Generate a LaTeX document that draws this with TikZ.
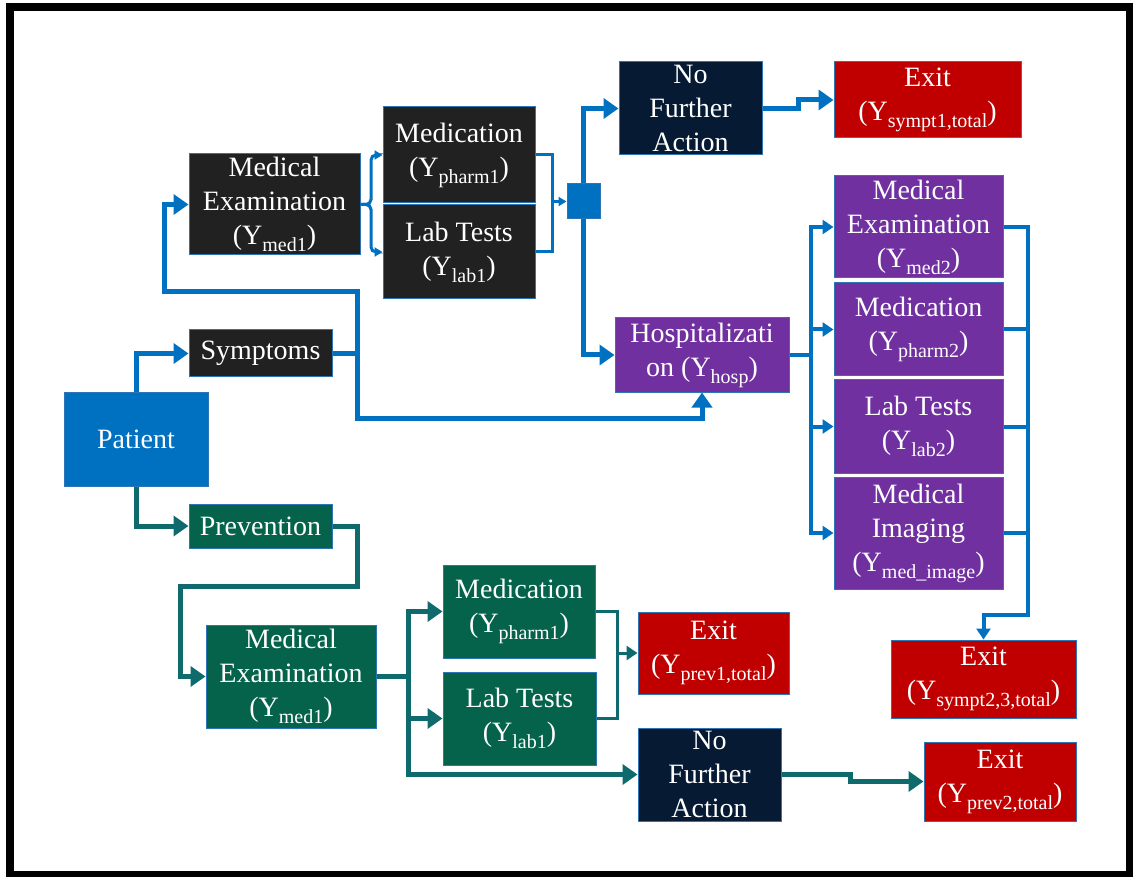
\documentclass[tikz,border=0pt]{standalone}
\usepackage{fontspec}
\setmainfont{Liberation Serif}
\usetikzlibrary{arrows.meta}
\definecolor{cblue}{HTML}{0070C0}
\definecolor{cteal}{HTML}{0E6A6C}
\definecolor{cgreen}{HTML}{04634A}
\definecolor{cdark}{HTML}{212121}
\definecolor{cnavy}{HTML}{061A33}
\definecolor{cred}{HTML}{C00000}
\definecolor{cpurple}{HTML}{7030A0}
\definecolor{cedge}{HTML}{2E75B6}
\newcommand\ys[1]{(Y\raisebox{-7pt}{\fontsize{20}{20}\selectfont #1})}
\begin{document}
\begin{tikzpicture}[x=1pt,y=-1pt,
  box/.style={draw=cedge, line width=1pt, text=white, align=center, inner sep=0pt,
    font=\fontsize{28}{34}\selectfont},
  bigtip/.style={-{Triangle[length=15pt,width=20pt]}},
  midtip/.style={-{Triangle[length=11pt,width=14pt]}},
  smalltip/.style={-{Triangle[length=8pt,width=9pt]}},
  bl/.style={draw=cblue, line width=5pt},
  bl4/.style={draw=cblue, line width=4pt},
  blthin/.style={draw=cblue, line width=3pt},
  tl/.style={draw=cteal, line width=5pt},
  tlthin/.style={draw=cteal, line width=3pt}]
\useasboundingbox (0,0) rectangle (1133,877);
\draw[line width=8pt] (10,7) rectangle (1130,874.5);

% nodes
\node[box, fill=cblue, minimum width=144pt, minimum height=94pt] (patient) at (136,439) {Patient};
\node[box, fill=cdark, minimum width=143pt, minimum height=47pt] (symp) at (260.5,353.5) {Symptoms};
\node[box, fill=cgreen, minimum width=143pt, minimum height=44pt] (prev) at (260.5,526) {Prevention};
\node[box, fill=cdark, minimum width=171pt, minimum height=101pt] (med1) at (274.5,204.5) {Medical\\Examination\\\ys{med1}};
\node[box, fill=cdark, minimum width=152pt, minimum height=96pt] (pharm1) at (459,155) {Medication\\\ys{pharm1}};
\node[box, fill=cdark, minimum width=152pt, minimum height=94pt] (lab1) at (459,252) {Lab Tests\\\ys{lab1}};
\node[box, fill=cblue, minimum width=33pt, minimum height=35pt] (sq) at (583.5,201.5) {};
\node[box, fill=cnavy, minimum width=143pt, minimum height=93pt] (nfa1) at (690.5,108.5) {No\\Further\\Action};
\node[box, fill=cred, minimum width=187pt, minimum height=76pt] (exit1) at (927.5,100) {Exit\\\ys{sympt1,total}};
\node[box, fill=cpurple, minimum width=174pt, minimum height=74pt] (hosp) at (702,355) {Hospitalizati\\on \ys{hosp}};
\node[box, fill=cpurple, minimum width=169pt, minimum height=102pt] (med2) at (918.5,227) {Medical\\Examination\\\ys{med2}};
\node[box, fill=cpurple, minimum width=169pt, minimum height=93pt] (pharm2) at (918.5,329.5) {Medication\\\ys{pharm2}};
\node[box, fill=cpurple, minimum width=169pt, minimum height=93pt] (lab2) at (918.5,426.5) {Lab Tests\\\ys{lab2}};
\node[box, fill=cpurple, minimum width=169pt, minimum height=112pt] (img) at (918.5,533) {Medical\\Imaging\\\ys{med\_image}};
\node[box, fill=cred, minimum width=185pt, minimum height=78pt] (exit23) at (983.5,679) {Exit\\\ys{sympt2,3,total}};
\node[box, fill=cgreen, minimum width=170pt, minimum height=103pt] (med1g) at (291,676.5) {Medical\\Examination\\\ys{med1}};
\node[box, fill=cgreen, minimum width=152pt, minimum height=93pt] (pharm1g) at (519,611.5) {Medication\\\ys{pharm1}};
\node[box, fill=cgreen, minimum width=153pt, minimum height=93pt] (lab1g) at (519.5,718.5) {Lab Tests\\\ys{lab1}};
\node[box, fill=cred, minimum width=151pt, minimum height=82pt] (exitp1) at (713.5,653) {Exit\\\ys{prev1,total}};
\node[box, fill=cnavy, minimum width=143pt, minimum height=93pt] (nfa2) at (709.5,774.5) {No\\Further\\Action};
\node[box, fill=cred, minimum width=152pt, minimum height=79pt] (exitp2) at (1000,781.5) {Exit\\\ys{prev2,total}};

% junction coordinates
\coordinate (sj) at (357,353.5);
\coordinate (hj) at (811,355);
\coordinate (gj) at (408,676.5);
\coordinate (mj) at (552,201.5);
\coordinate (pj) at (617,653);

% blue connectors
\draw[bl,bigtip] (patient.north) |- (symp.west);
\draw[bl] (symp.east) -- (sj);
\draw[bl,bigtip] (sj) -- (357,292) -- (164,292) |- (med1.west);
\draw[bl,bigtip] (sj) |- (702,418) -- (hosp.south);
\draw[blthin,smalltip,rounded corners=5pt] (med1.east) -- (371,204.5) |- (pharm1.west);
\draw[blthin,smalltip,rounded corners=5pt] (med1.east) -- (371,204.5) |- (lab1.west);
\draw[blthin] (pharm1.east) -| (mj);
\draw[blthin] (lab1.east) -| (mj);
\draw[blthin,smalltip] (mj) -- (sq.west);
\draw[bl,bigtip] (sq.north) |- (nfa1.west);
\draw[bl,bigtip] (sq.south) |- (hosp.west);
\draw[bl,bigtip] (nfa1.east) -- (798,108.5) -- (798,100) -- (exit1.west);
\draw[bl4] (hosp.east) -- (hj);
\draw[bl4,midtip] (hj) |- (med2.west);
\draw[bl4,midtip] (hj) |- (pharm2.west);
\draw[bl4,midtip] (hj) |- (lab2.west);
\draw[bl4,midtip] (hj) |- (img.west);
\draw[bl4,midtip] (med2.east) -- (1028,227) -- (1028,615) -- (983.5,615) -- (exit23.north);
\draw[bl4] (pharm2.east) -- (1028,329.5);
\draw[bl4] (lab2.east) -- (1028,426.5);
\draw[bl4] (img.east) -- (1028,533);

% teal connectors
\draw[tl,bigtip] (patient.south) |- (prev.west);
\draw[tl,bigtip] (prev.east) -- (357,526) -- (357,586) -- (180,586) |- (med1g.west);
\draw[tl] (med1g.east) -- (gj);
\draw[tl,bigtip] (gj) |- (pharm1g.west);
\draw[tl,bigtip] (gj) |- (lab1g.west);
\draw[tl,bigtip] (gj) |- (nfa2.west);
\draw[tlthin] (pharm1g.east) -| (pj);
\draw[tlthin] (lab1g.east) -| (pj);
\draw[tlthin,midtip] (pj) -- (exitp1.west);
\draw[tl,bigtip] (nfa2.east) -- (850,774.5) -- (850,781.5) -- (exitp2.west);
\end{tikzpicture}
\end{document}
